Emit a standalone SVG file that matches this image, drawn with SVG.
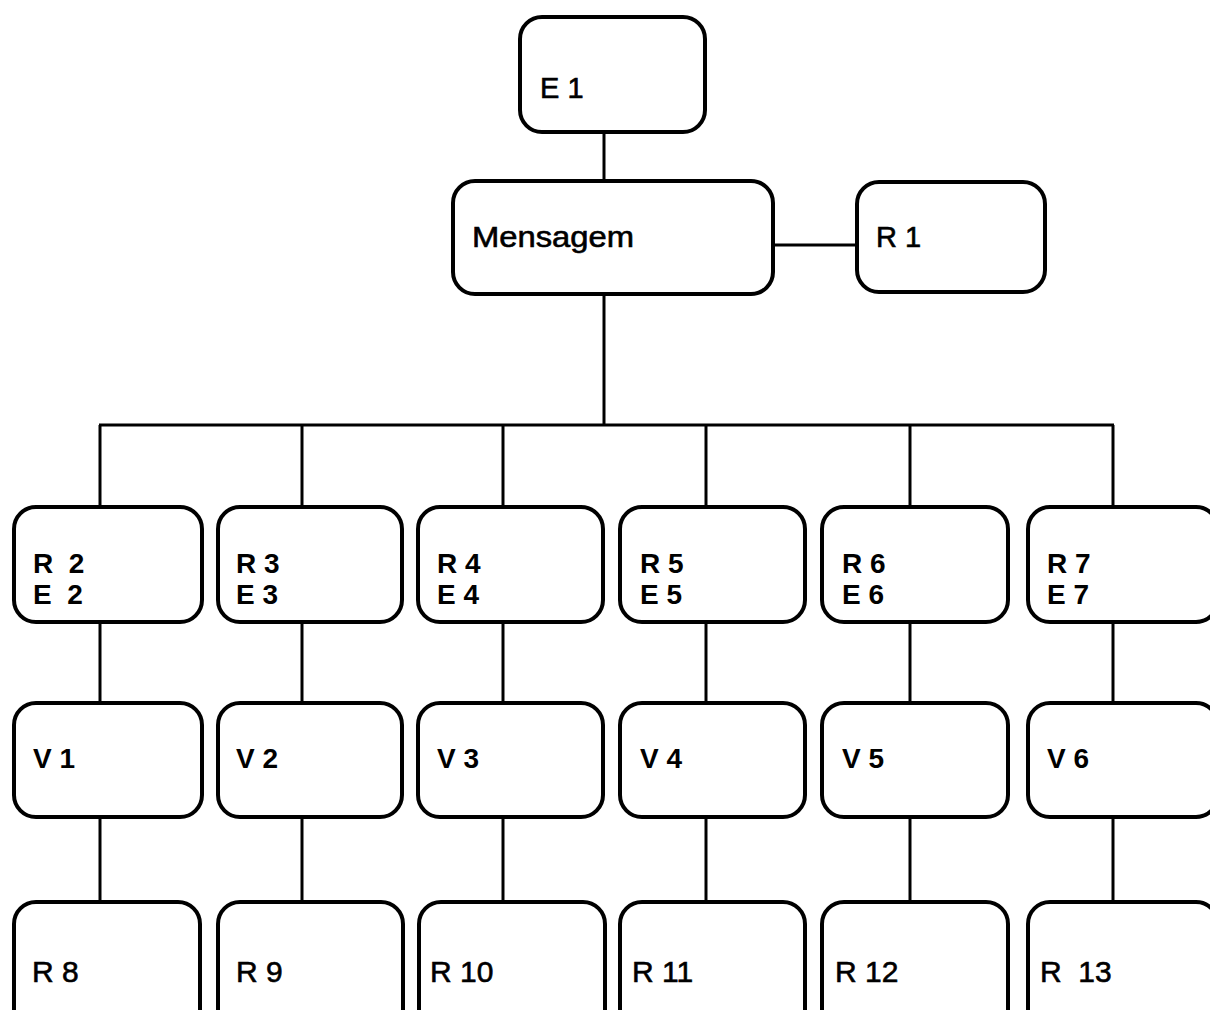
<svg xmlns="http://www.w3.org/2000/svg" width="1210" height="1010" viewBox="0 0 1210 1010">
<style>
.box{fill:#fff;stroke:#000;stroke-width:4}
.ln{stroke:#000;stroke-width:3;fill:none}
text{font-family:"Liberation Sans",Arial,sans-serif;fill:#000}
.t{font-size:29px;stroke:#000;stroke-width:0.6}
.b{font-size:28px;font-weight:bold}
.r{font-size:30px;stroke:#000;stroke-width:0.6}
</style>
<rect width="1210" height="1010" fill="#fff"/>
<g id="connectors">
<line class="ln" x1="604" y1="132" x2="604" y2="181"/>
<line class="ln" x1="773" y1="245" x2="857" y2="245"/>
<line class="ln" x1="604" y1="294" x2="604" y2="425"/>
<line class="ln" x1="99" y1="425" x2="1114" y2="425"/>
<line class="ln" x1="100" y1="425" x2="100" y2="507"/>
<line class="ln" x1="302" y1="425" x2="302" y2="507"/>
<line class="ln" x1="503" y1="425" x2="503" y2="507"/>
<line class="ln" x1="706" y1="425" x2="706" y2="507"/>
<line class="ln" x1="910" y1="425" x2="910" y2="507"/>
<line class="ln" x1="1113" y1="425" x2="1113" y2="507"/>
<line class="ln" x1="100" y1="622" x2="100" y2="703"/>
<line class="ln" x1="302" y1="622" x2="302" y2="703"/>
<line class="ln" x1="503" y1="622" x2="503" y2="703"/>
<line class="ln" x1="706" y1="622" x2="706" y2="703"/>
<line class="ln" x1="910" y1="622" x2="910" y2="703"/>
<line class="ln" x1="1113" y1="622" x2="1113" y2="703"/>
<line class="ln" x1="100" y1="817" x2="100" y2="902"/>
<line class="ln" x1="302" y1="817" x2="302" y2="902"/>
<line class="ln" x1="503" y1="817" x2="503" y2="902"/>
<line class="ln" x1="706" y1="817" x2="706" y2="902"/>
<line class="ln" x1="910" y1="817" x2="910" y2="902"/>
<line class="ln" x1="1113" y1="817" x2="1113" y2="902"/>
</g>
<g id="E1"><rect class="box" x="520" y="17" width="185" height="115" rx="22"/><text class="t" x="540" y="98">E 1</text></g>
<g id="Mensagem"><rect class="box" x="453" y="181" width="320" height="113" rx="22"/><text class="t" x="472" y="247" textLength="162" lengthAdjust="spacingAndGlyphs">Mensagem</text></g>
<g id="R1"><rect class="box" x="857" y="182" width="188" height="110" rx="22"/><text class="t" x="876" y="247">R 1</text></g>

<g id="RE2"><rect class="box" x="14" y="507" width="188" height="115" rx="22"/><text class="b" x="33" y="573" xml:space="preserve">R  2</text><text class="b" x="33" y="604" xml:space="preserve">E  2</text></g>
<g id="RE3"><rect class="box" x="218" y="507" width="184" height="115" rx="22"/><text class="b" x="236" y="573">R 3</text><text class="b" x="236" y="604">E 3</text></g>
<g id="RE4"><rect class="box" x="418" y="507" width="185" height="115" rx="22"/><text class="b" x="437" y="573">R 4</text><text class="b" x="437" y="604">E 4</text></g>
<g id="RE5"><rect class="box" x="620" y="507" width="185" height="115" rx="22"/><text class="b" x="640" y="573">R 5</text><text class="b" x="640" y="604">E 5</text></g>
<g id="RE6"><rect class="box" x="822" y="507" width="186" height="115" rx="22"/><text class="b" x="842" y="573">R 6</text><text class="b" x="842" y="604">E 6</text></g>
<g id="RE7"><rect class="box" x="1028" y="507" width="190" height="115" rx="22"/><text class="b" x="1047" y="573">R 7</text><text class="b" x="1047" y="604">E 7</text></g>

<g id="V1"><rect class="box" x="14" y="703" width="188" height="114" rx="22"/><text class="b" x="33" y="768">V 1</text></g>
<g id="V2"><rect class="box" x="218" y="703" width="184" height="114" rx="22"/><text class="b" x="236" y="768">V 2</text></g>
<g id="V3"><rect class="box" x="418" y="703" width="185" height="114" rx="22"/><text class="b" x="437" y="768">V 3</text></g>
<g id="V4"><rect class="box" x="620" y="703" width="185" height="114" rx="22"/><text class="b" x="640" y="768">V 4</text></g>
<g id="V5"><rect class="box" x="822" y="703" width="186" height="114" rx="22"/><text class="b" x="842" y="768">V 5</text></g>
<g id="V6"><rect class="box" x="1028" y="703" width="190" height="114" rx="22"/><text class="b" x="1047" y="768">V 6</text></g>

<g id="R8"><rect class="box" x="14" y="902" width="186" height="130" rx="22"/><text class="r" x="32" y="982">R 8</text></g>
<g id="R9"><rect class="box" x="218" y="902" width="185" height="130" rx="22"/><text class="r" x="236" y="982">R 9</text></g>
<g id="R10"><rect class="box" x="419" y="902" width="186" height="130" rx="22"/><text class="r" x="430" y="982">R 10</text></g>
<g id="R11"><rect class="box" x="620" y="902" width="185" height="130" rx="22"/><text class="r" x="632" y="982">R 11</text></g>
<g id="R12"><rect class="box" x="822" y="902" width="186" height="130" rx="22"/><text class="r" x="835" y="982">R 12</text></g>
<g id="R13"><rect class="box" x="1028" y="902" width="190" height="130" rx="22"/><text class="r" x="1040" y="982" xml:space="preserve">R  13</text></g>
</svg>
